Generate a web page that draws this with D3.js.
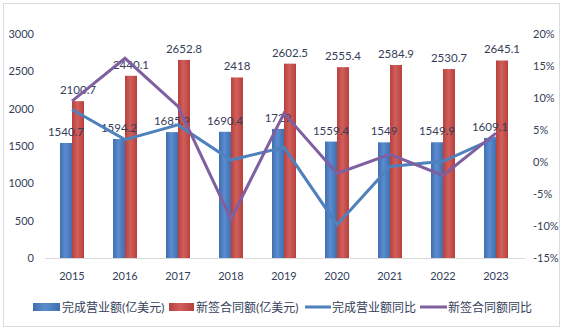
<!DOCTYPE html>
<html><head><meta charset="utf-8">
<script src="https://cdn.jsdelivr.net/npm/d3@7"></script>
<style>body{margin:0;background:#fff}svg{display:block}text{font-family:Lato,"Noto Sans CJK SC",sans-serif;fill:#34405a}</style>
</head><body><svg id="c" width="564" height="332"></svg>
<script>
const years = ["2015","2016","2017","2018","2019","2020","2021","2022","2023"];
const revenue = [1540.7,1594.2,1685.9,1690.4,1729,1559.4,1549,1549.9,1609.1];
const contracts = [2100.7,2440.1,2652.8,2418,2602.5,2555.4,2584.9,2530.7,2645.1];
const revenueYoY = [8.2,3.5,5.8,0.3,2.3,-9.8,-0.7,0.1,3.8];
const contractsYoY = [9.5,16.2,8.7,-8.9,7.6,-1.8,1.2,-2.1,4.5];
const leftTicks = [0,500,1000,1500,2000,2500,3000];
const rightTicks = [-15,-10,-5,0,5,10,15,20];
const seriesNames = ["完成营业额(亿美元)","新签合同额(亿美元)","完成营业额同比","新签合同额同比"];

const svg = d3.select("#c");
const defs = svg.append("defs");
function grad(id, edge, mid){
  const g = defs.append("linearGradient").attr("id",id).attr("x1","0").attr("x2","1").attr("y1","0").attr("y2","0");
  g.append("stop").attr("offset","0%").attr("stop-color",edge);
  g.append("stop").attr("offset","45%").attr("stop-color",mid);
  g.append("stop").attr("offset","100%").attr("stop-color",edge);
}
grad("gb","#3f6fae","#5b8cd0");
grad("gr","#b8403d","#d05f5b");

svg.append("rect").attr("x",3.5).attr("y",3.5).attr("width",556).attr("height",323)
  .attr("fill","#fff").attr("stroke","#d9dde3").attr("stroke-width",1);

const x = d3.scaleBand().domain(years).range([45.5,522.5]);
const y = d3.scaleLinear().domain([0,3000]).range([258,34]);
const y2 = d3.scaleLinear().domain([-15,20]).range([258,34]);
const bw = 12;

svg.append("line").attr("x1",45).attr("x2",525).attr("y1",y(0)+0.5).attr("y2",y(0)+0.5).attr("stroke","#d9d9d9");

const la = svg.append("g").attr("transform","translate(45,0)")
  .call(d3.axisLeft(y).tickValues(leftTicks).tickSize(0).tickPadding(11).tickFormat(d3.format("d")));
la.select(".domain").remove();
la.selectAll("text").attr("font-size",11).style("font-family","Lato");

const ra = svg.append("g").attr("transform","translate(533,0)")
  .call(d3.axisRight(y2).tickValues(rightTicks).tickSize(0).tickPadding(0).tickFormat(d=>d+"%"));
ra.select(".domain").remove();
ra.selectAll("text").attr("font-size",11).style("font-family","Lato");

const xa = svg.append("g").attr("transform","translate(0,258)")
  .call(d3.axisBottom(x).tickSize(0).tickPadding(14));
xa.select(".domain").remove();
xa.selectAll("text").attr("font-size",11).style("font-family","Lato");

const cx = d => x(d)+x.bandwidth()/2;

svg.append("g").selectAll("rect").data(years).join("rect")
  .attr("x",(d)=>cx(d)-bw).attr("width",bw)
  .attr("y",(d,i)=>y(revenue[i])).attr("height",(d,i)=>y(0)-y(revenue[i]))
  .attr("fill","url(#gb)");
svg.append("g").selectAll("rect").data(years).join("rect")
  .attr("x",(d)=>cx(d)).attr("width",bw)
  .attr("y",(d,i)=>y(contracts[i])).attr("height",(d,i)=>y(0)-y(contracts[i]))
  .attr("fill","url(#gr)");

svg.append("g").selectAll("text").data(years).join("text")
  .attr("x",d=>cx(d)-bw/2).attr("y",(d,i)=>y(revenue[i])-7)
  .attr("text-anchor","middle").attr("font-size",11.5).text((d,i)=>revenue[i]);
svg.append("g").selectAll("text").data(years).join("text")
  .attr("x",d=>cx(d)+bw/2).attr("y",(d,i)=>y(contracts[i])-7)
  .attr("text-anchor","middle").attr("font-size",11.5).text((d,i)=>contracts[i]);

const line = arr => d3.line().x((d)=>cx(d)).y((d,i)=>y2(arr[i]))(years);
svg.append("path").attr("d",line(revenueYoY)).attr("fill","none").attr("stroke","#4f81bd").attr("stroke-width",3);
svg.append("path").attr("d",line(contractsYoY)).attr("fill","none").attr("stroke","#7f5fa0").attr("stroke-width",3);

const lg = svg.append("g");
const ly = 307;
lg.append("rect").attr("x",33).attr("y",ly-4).attr("width",27).attr("height",8).attr("fill","url(#gb)");
lg.append("text").attr("x",62).attr("y",ly+4.5).attr("font-size",12).text(seriesNames[0]);
lg.append("rect").attr("x",169).attr("y",ly-4).attr("width",25).attr("height",8).attr("fill","url(#gr)");
lg.append("text").attr("x",196).attr("y",ly+4.5).attr("font-size",12).text(seriesNames[1]);
lg.append("line").attr("x1",305).attr("x2",331).attr("y1",ly).attr("y2",ly).attr("stroke","#4f81bd").attr("stroke-width",3);
lg.append("text").attr("x",332).attr("y",ly+4.5).attr("font-size",12).text(seriesNames[2]);
lg.append("line").attr("x1",420).attr("x2",447).attr("y1",ly).attr("y2",ly).attr("stroke","#7f5fa0").attr("stroke-width",3);
lg.append("text").attr("x",448).attr("y",ly+4.5).attr("font-size",12).text(seriesNames[3]);
</script></body></html>
